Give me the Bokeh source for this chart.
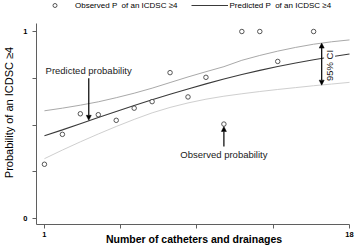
from math import pi
from bokeh.plotting import figure
from bokeh.models import (FixedTicker, Legend, LegendItem, Label, Arrow,
                          NormalHead, Range1d)
from bokeh.embed import file_html
from bokeh.resources import INLINE

# Observed proportion with ICDSC >= 4 by number of catheters/drainages
obs_x = [1, 2, 3, 4, 5, 6, 7, 8, 9, 10, 11, 12, 13, 14, 16]
obs_p = [0.29, 0.45, 0.56, 0.555, 0.525, 0.59, 0.625, 0.78, 0.65, 0.755,
         0.505, 1.0, 1.0, 0.84, 1.0]

# Predicted probability and its 95% CI
fit_x = [1, 2, 3, 4, 5, 6, 7, 8, 9, 10, 11, 12, 13, 14, 15, 16, 17, 18]
pred_p = [0.442, 0.474, 0.507, 0.540, 0.572, 0.604, 0.635, 0.664, 0.693,
          0.720, 0.746, 0.770, 0.792, 0.813, 0.832, 0.849, 0.865, 0.880]
upper_p = [0.576, 0.590, 0.606, 0.624, 0.646, 0.670, 0.697, 0.727, 0.757,
           0.785, 0.812, 0.846, 0.872, 0.895, 0.915, 0.932, 0.945, 0.955]
lower_p = [0.320, 0.366, 0.410, 0.452, 0.492, 0.530, 0.565, 0.594, 0.618,
           0.638, 0.654, 0.667, 0.679, 0.690, 0.700, 0.710, 0.719, 0.728]

x_ticks = [1, 5.25, 9.5, 13.75, 18]
x_tick_labels = {1: "1", 5.25: "", 9.5: "", 13.75: "", 18: "18"}
y_ticks = [0, 0.25, 0.5, 0.75, 1]
y_tick_labels = {0: "0", 0.25: "", 0.5: "", 0.75: "", 1: "1"}

FONT = "Liberation Sans"
AXIS_COL = "#5f5f5f"

X0, X1 = 0.557, 18.111
Y0, Y1 = -0.0321, 1.1658

p = figure(width=359, height=249, output_backend="svg", toolbar_location=None,
           x_range=Range1d(X0, X1), y_range=Range1d(Y0, Y1),
           min_border_left=34, min_border_right=8, min_border_top=0,
           min_border_bottom=25)
p.outline_line_color = None
p.grid.visible = False

up_r = p.line(fit_x, upper_p, line_color="#a9a9a9", line_width=1)
lo_r = p.line(fit_x, lower_p, line_color="#cfcfcf", line_width=1)
pred_r = p.line(fit_x, pred_p, line_color="#3a3a3a", line_width=1.1)
obs_r = p.scatter(obs_x, obs_p, size=4.5, fill_color="white",
                  line_color="#444444", line_width=0.9)

for ax in (p.xaxis, p.yaxis):
    ax.axis_line_color = AXIS_COL
    ax.major_tick_line_color = AXIS_COL
    ax.major_tick_out = 4
    ax.major_tick_in = 0
    ax.minor_tick_line_color = None
    ax.major_label_text_font = FONT
    ax.major_label_text_font_size = "7.5px"
    ax.major_label_text_font_style = "bold"
    ax.major_label_text_color = "black"
    ax.axis_label_text_font = FONT
    ax.axis_label_text_color = "black"

p.xaxis.major_label_standoff = 3
p.xaxis.axis_label_standoff = -7
p.yaxis.major_label_standoff = 5
p.yaxis.axis_label_standoff = 5

p.xaxis.ticker = FixedTicker(ticks=x_ticks)
p.xaxis.major_label_overrides = x_tick_labels
p.xaxis.bounds = (X0, 18)
p.yaxis.ticker = FixedTicker(ticks=y_ticks)
p.yaxis.major_label_overrides = y_tick_labels
p.yaxis.bounds = (Y0, 1.043)

p.xaxis.axis_label = "Number of catheters and drainages"
p.xaxis.axis_label_text_font_size = "10.5px"
p.xaxis.axis_label_text_font_style = "bold"
p.yaxis.axis_label = "Probability of an ICDSC \u22654"
p.yaxis.axis_label_text_font_size = "11px"
p.yaxis.axis_label_text_font_style = "normal"

legend = Legend(items=[LegendItem(label="Observed P  of an ICDSC \u22654", renderers=[obs_r]),
                       LegendItem(label="Predicted P  of an ICDSC \u22654", renderers=[pred_r])],
                orientation="horizontal", location="top_left",
                glyph_width=37, glyph_height=10, label_height=10,
                label_standoff=2, spacing=13, padding=0, margin=0,
                label_text_font=FONT, label_text_font_size="8px",
                label_text_color="black",
                background_fill_alpha=0, border_line_alpha=0)
p.add_layout(legend, "center")

lbl_kw = dict(text_font=FONT, text_font_size="9.5px", text_color="#1a1a1a",
              text_align="center", text_baseline="middle")
p.add_layout(Label(x=3.46, y=0.791, text="Predicted probability", **lbl_kw))
p.add_layout(Label(x=11, y=0.342, text="Observed probability", **lbl_kw))
p.add_layout(Label(x=16.89, y=0.818, text="95% CI", angle=pi / 2,
                   background_fill_color="white", **lbl_kw))

def head():
    return NormalHead(size=5, fill_color="black", line_color="black", line_width=0.5)

p.add_layout(Arrow(end=head(), x_start=3.47, y_start=0.75, x_end=3.47, y_end=0.525,
                   line_color="black", line_width=1.2))
p.add_layout(Arrow(end=head(), x_start=11, y_start=0.385, x_end=11, y_end=0.492,
                   line_color="black", line_width=1.2))
p.add_layout(Arrow(start=head(), end=head(), x_start=16.45, y_start=0.713,
                   x_end=16.45, y_end=0.938, line_color="black", line_width=1.2))

open("out.html", "w").write(file_html(p, INLINE))
